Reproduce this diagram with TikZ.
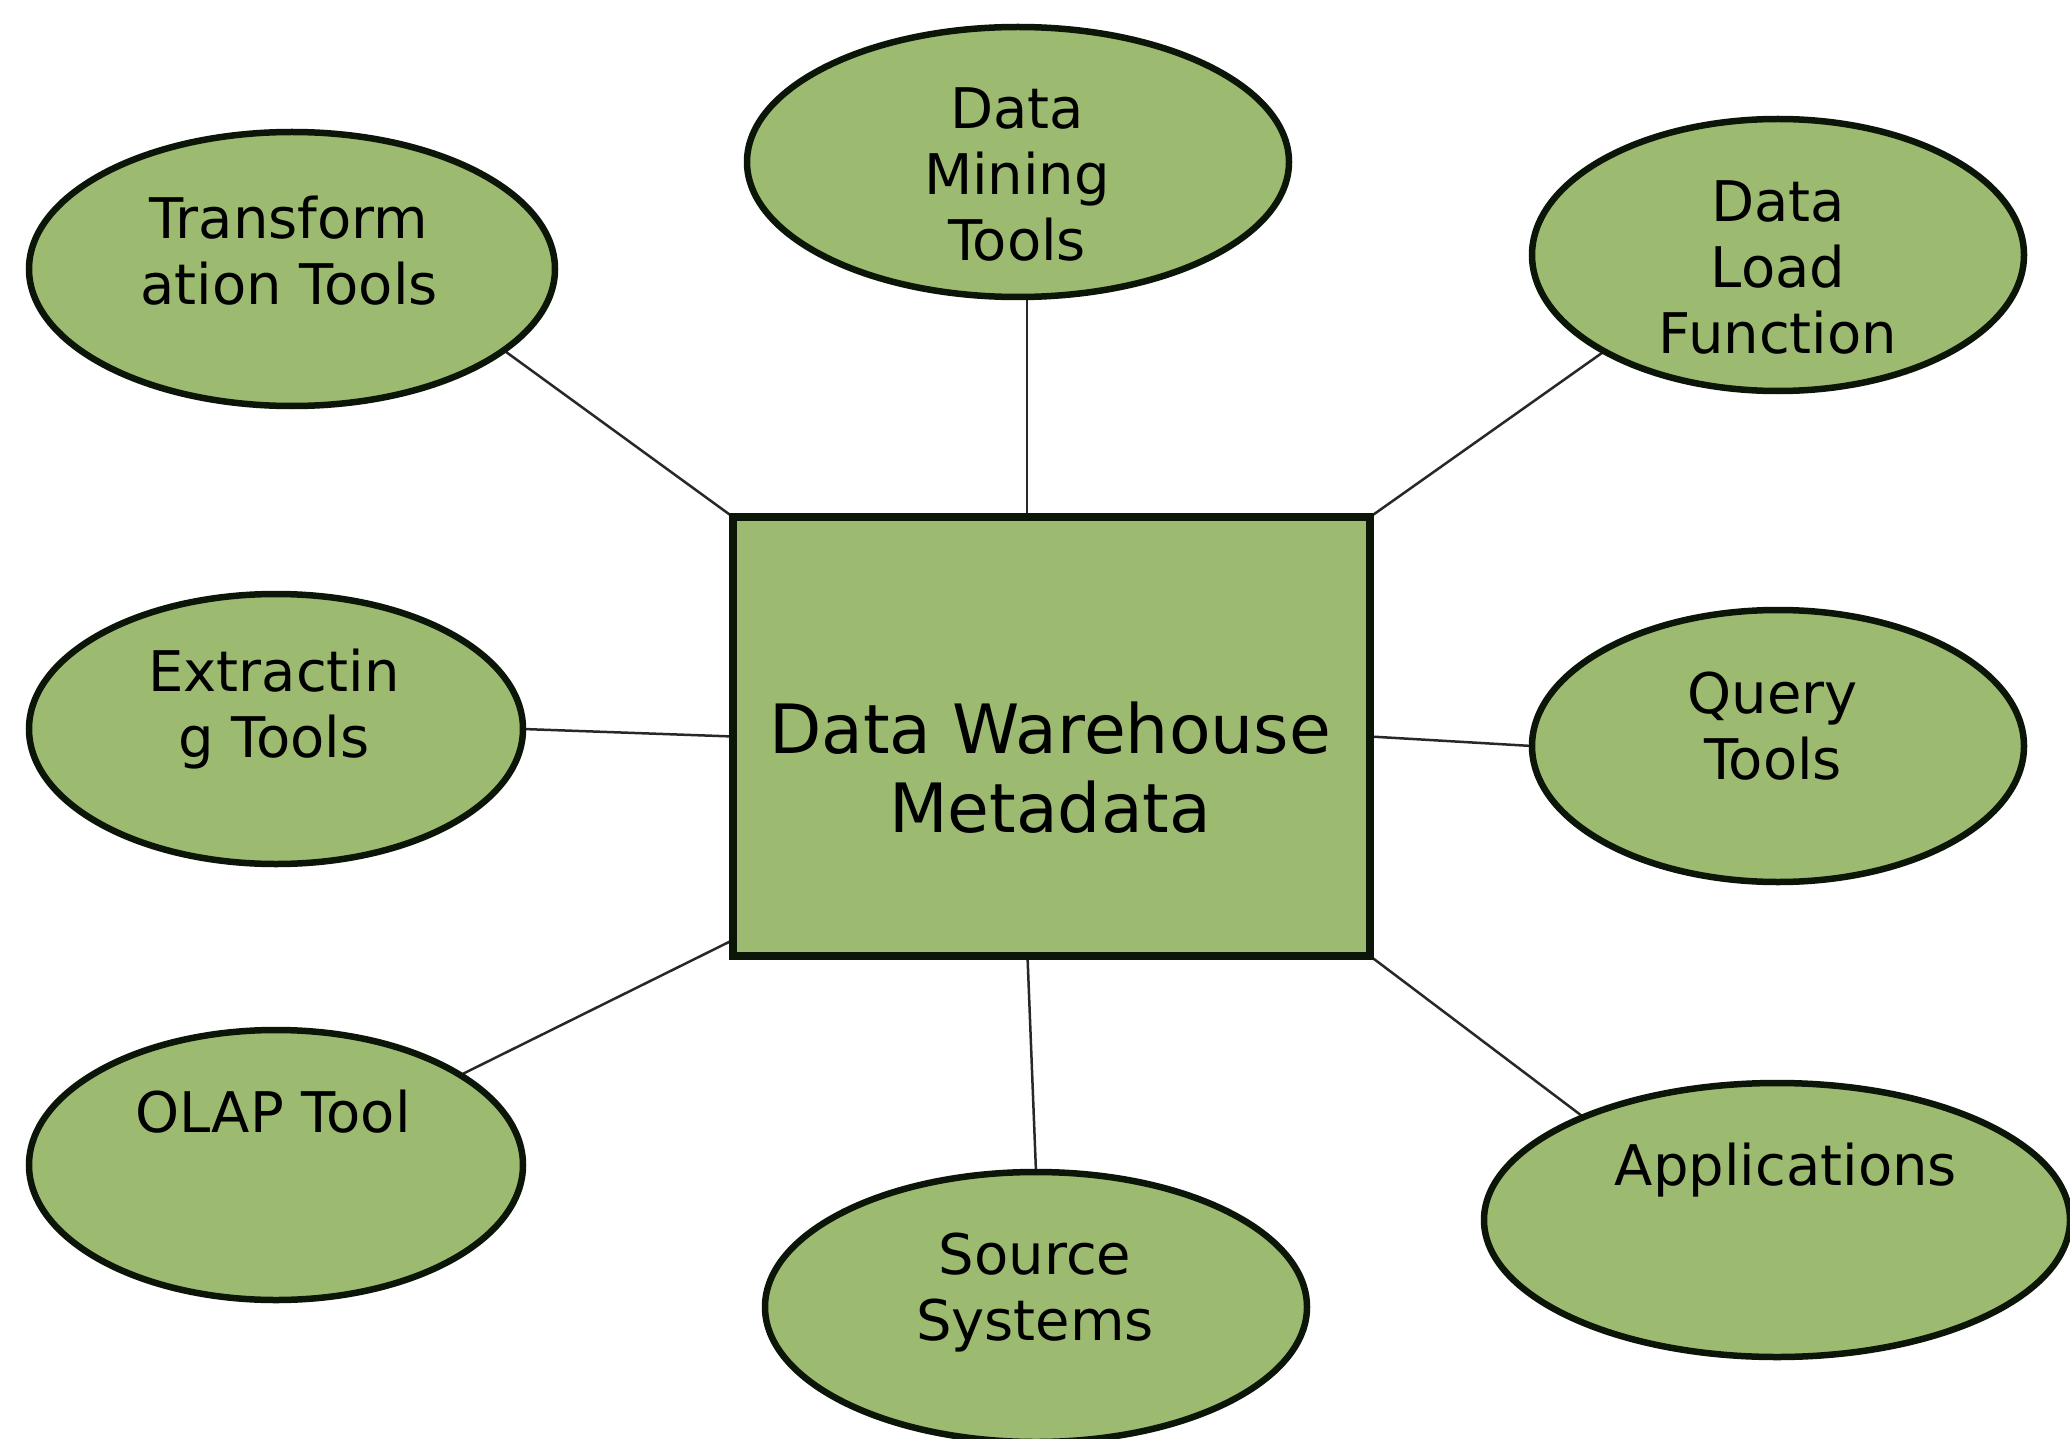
\documentclass[tikz,border=0pt]{standalone}
\usepackage{fontspec}
\setmainfont{DejaVu Sans}
\usetikzlibrary{shapes.geometric,backgrounds}
\definecolor{olivefill}{RGB}{157,187,112}
\definecolor{edgecol}{RGB}{12,22,8}
\definecolor{linkcol}{RGB}{40,40,40}
\begin{document}
\begin{tikzpicture}[x=1pt,y=-1pt,
  bubble/.style={ellipse, draw=edgecol, line width=6.5pt, fill=olivefill, inner sep=0pt, outer sep=0pt},
  core/.style={rectangle, draw=edgecol, line width=8pt, fill=olivefill, inner sep=0pt, outer sep=0pt,
    minimum width=637, minimum height=439},
  txt/.style={align=center, inner sep=0pt, text=black, font=\fontsize{56}{66}\selectfont},
  bigtxt/.style={align=center, inner sep=0pt, text=black, font=\fontsize{68}{79}\selectfont},
  link/.style={draw=linkcol, line width=2.5pt}]
\useasboundingbox (0,0) rectangle (2070,1439);

% shapes
\node[core] (dw) at (1051.5,736.5) {};
\node[bubble, minimum width=526, minimum height=274] (tt) at (292,269) {};
\node[bubble, minimum width=542, minimum height=270] (dm) at (1018,162) {};
\node[bubble, minimum width=492, minimum height=272] (dl) at (1778,255) {};
\node[bubble, minimum width=494, minimum height=270] (ex) at (276,729) {};
\node[bubble, minimum width=492, minimum height=272] (qt) at (1778,746) {};
\node[bubble, minimum width=494, minimum height=270] (ol) at (276,1165) {};
\node[bubble, minimum width=542, minimum height=270] (ss) at (1036,1307) {};
\node[bubble, minimum width=586, minimum height=274] (ap) at (1777,1220) {};

% texts
\node[bigtxt] (dw-t) at (1050,768) {Data Warehouse\\Metadata};
\node[txt] (tt-t) at (289,251) {Transform\\ation Tools};
\node[txt] (dm-t) at (1017,174) {Data\\Mining\\Tools};
\node[txt] (dl-t) at (1778,267) {Data\\Load\\Function};
\node[txt] (ex-t) at (274,709) {Extractin\\g Tools};
\node[txt] (qt-t) at (1773,726) {Query\\Tools};
\node[txt] (ol-t) at (273,1112) {OLAP Tool};
\node[txt] (ss-t) at (1035,1293) {Source\\Systems};
\node[txt] (ap-t) at (1786,1170) {Applications};

% connectors
\begin{scope}[on background layer]
\fill[white] (0,0) rectangle (2070,1439);
\draw[link] (tt.-21) -- (dw.north west);
\draw[link] ([xshift=9pt]dm.south) -- ([xshift=9pt]dm.south |- dw.north);
\draw[link] (dl.209) -- (dw.north east);
\draw[link] (ex.east) -- (dw.west);
\draw[link] (dw.east) -- (qt.west);
\draw[link] (ol.26) -- ([yshift=16pt]dw.south west);
\draw[link] ([xshift=-24pt]dw.south) -- (ss.north);
\draw[link] (dw.south east) -- (ap.152);
\end{scope}
\end{tikzpicture}
\end{document}
